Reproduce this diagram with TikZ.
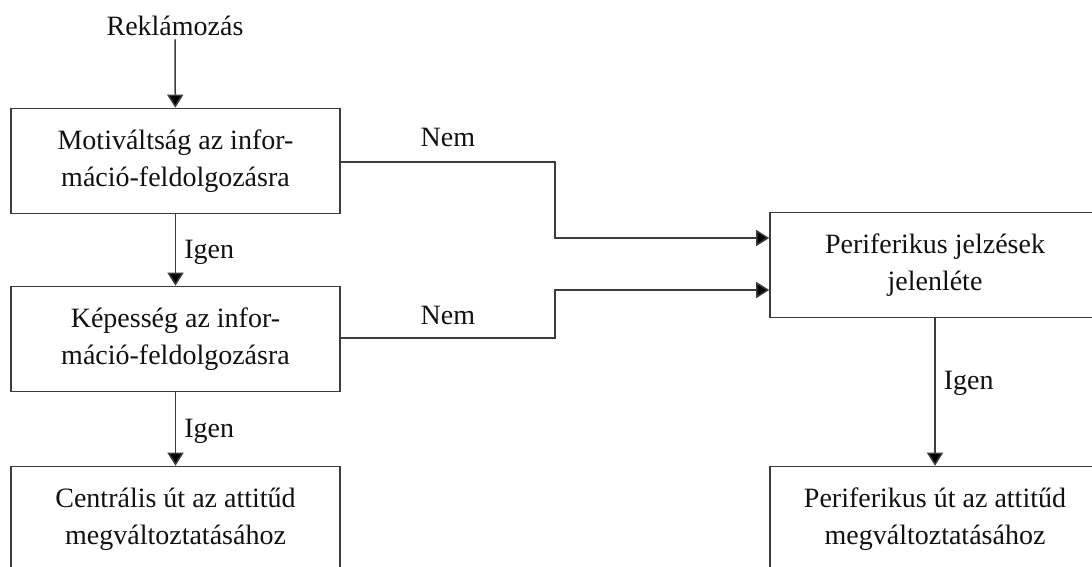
\documentclass[tikz,border=0pt]{standalone}
\usepackage{fontspec}
\setmainfont{Liberation Serif}
\usetikzlibrary{arrows.meta,calc}
\definecolor{linec}{HTML}{3C3C3C}
\definecolor{textc}{HTML}{111111}
\begin{document}
\begin{tikzpicture}[x=1pt,y=-1pt,
  every node/.style={text=textc,font=\fontsize{28}{37}\selectfont},
  box/.style={draw=linec,line width=1.6pt,minimum width=329pt,minimum height=105pt,inner sep=0pt,align=center},
  arr/.style={draw=linec,line width=1.5pt,-{Triangle[length=13pt,width=16pt,fill=black]}},
  lbl/.style={inner sep=4pt}]
\useasboundingbox (0,0) rectangle (1092,566);
\clip (0,0) rectangle (1092,566);
\node (rek) at (175,26) {Reklámozás};
\node[box] (b1) at (175.5,161) {Motiváltság az infor-\\máció-feldolgozásra};
\node[box] (b2) at (175.5,339) {Képesség az infor-\\máció-feldolgozásra};
\node[box] (b3) at (175.5,519) {Centrális út az attitűd\\megváltoztatásához};
\node[box,minimum width=330pt] (p1) at (935,265) {Periferikus jelzések\\jelenléte};
\node[box,minimum width=330pt] (p2) at (935,519) {Periferikus út az attitűd\\megváltoztatásához};
\coordinate (j1) at (555,162);
\coordinate (j2) at (555,338);
\coordinate (t1) at ($(p1.west)+(0,-27)$);
\coordinate (t2) at ($(p1.west)+(0,25)$);
\draw[arr] (rek) -- (b1);
\draw[arr] (b1) -- node[right,lbl,xshift=4pt,yshift=-2pt]{Igen} (b2);
\draw[arr] (b2) -- node[right,lbl,xshift=4pt,yshift=-2pt]{Igen} (b3);
\draw[arr] (p1) -- node[right,lbl,pos=0.44,xshift=4pt]{Igen} (p2);
\draw[arr] (b1.east |- j1) -- node[above,lbl,yshift=10pt]{Nem} (j1) |- (t1);
\draw[arr] (b2.east |- j2) -- node[above,lbl,yshift=8pt]{Nem} (j2) |- (t2);
\end{tikzpicture}
\end{document}
